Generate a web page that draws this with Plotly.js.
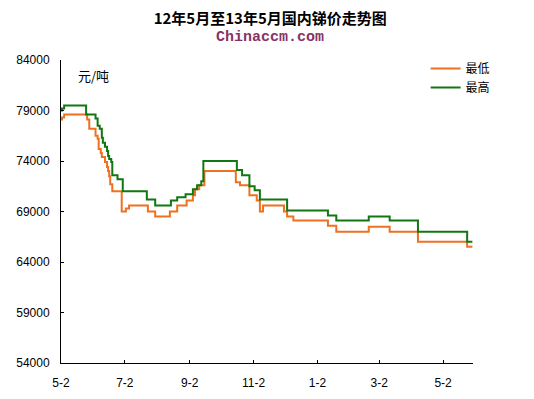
<!DOCTYPE html>
<html>
<head>
<meta charset="utf-8">
<script src="https://cdn.plot.ly/plotly-3.0.1.min.js"></script>
<style>html,body{margin:0;padding:0;background:#fff;}#chart{width:534px;height:399px;}</style>
</head>
<body>
<div id="chart"></div>
<script>
// 最低 (minimum price) series — change points
const minDates = ['2012-05-02','2012-05-03','2012-05-05','2012-05-27','2012-05-29','2012-06-04','2012-06-06','2012-06-07','2012-06-09','2012-06-10','2012-06-13','2012-06-15','2012-06-16','2012-06-17','2012-06-18','2012-06-20','2012-06-29','2012-07-03','2012-07-06','2012-07-24','2012-07-31','2012-08-14','2012-08-21','2012-08-30','2012-09-05','2012-09-07','2012-09-11','2012-09-16','2012-10-16','2012-10-20','2012-10-29','2012-11-05','2012-11-08','2012-11-11','2012-12-01','2012-12-04','2012-12-10','2013-01-12','2013-01-20','2013-02-20','2013-03-12','2013-04-08','2013-05-25','2013-05-30'];
const minVals = [78100,78300,78600,78100,77200,76500,76200,75200,74800,74400,73900,73400,73000,72500,71700,71000,69000,69300,69600,69000,68500,69000,69600,70100,70600,71200,71600,73000,71900,71600,70600,70100,69000,69600,69000,68500,68100,67600,67000,67500,67000,66000,65500,65500];

// 最高 (maximum price) series — change points
const maxDates = ['2012-05-02','2012-05-03','2012-05-05','2012-05-26','2012-06-04','2012-06-06','2012-06-08','2012-06-10','2012-06-11','2012-06-13','2012-06-15','2012-06-16','2012-06-17','2012-06-19','2012-06-20','2012-06-25','2012-06-30','2012-07-23','2012-07-31','2012-08-15','2012-08-21','2012-08-29','2012-09-05','2012-09-09','2012-09-13','2012-09-15','2012-10-17','2012-10-22','2012-10-29','2012-11-03','2012-11-08','2012-12-04','2013-01-12','2013-01-20','2013-02-20','2013-03-12','2013-04-08','2013-05-25','2013-05-30'];
const maxVals = [79000,79200,79500,78600,78200,77500,77200,76300,75800,75400,75000,74500,74200,73900,72600,72200,71000,70200,69600,70100,70400,70700,71200,71600,72000,74000,73100,72600,71500,71100,70200,69100,68600,68100,68500,68100,67000,66000,66000];

const seriesNames = ['最低','最高'];
const tickVals = ['2012-05-02','2012-07-02','2012-09-02','2012-11-02','2013-01-02','2013-03-02','2013-05-02'];
const tickText = ['5-2','7-2','9-2','11-2','1-2','3-2','5-2'];
const yTicks = [54000,59000,64000,69000,74000,79000,84000];

const traces = [
  {x: minDates, y: minVals, name: seriesNames[0], type: 'scatter', mode: 'lines',
   line: {color: '#ee7020', width: 2, shape: 'hv'}},
  {x: maxDates, y: maxVals, name: seriesNames[1], type: 'scatter', mode: 'lines',
   line: {color: '#117711', width: 2, shape: 'hv'}}
];

const layout = {
  width: 534, height: 399,
  margin: {l: 61, r: 61, t: 60, b: 36, pad: 0},
  paper_bgcolor: '#ffffff', plot_bgcolor: '#ffffff',
  font: {family: 'Liberation Sans, Arial, sans-serif', size: 12, color: '#000'},
  title: {text: '12年5月至13年5月国内锑价走势图', x: 0.506, xref: 'container', xanchor: 'center',
          y: 0.952, yref: 'container', yanchor: 'middle',
          font: {family: 'Noto Sans CJK SC, sans-serif', size: 15, color: '#000', weight: 'bold'}},
  showlegend: true,
  legend: {x: 0.885, y: 1.02, xanchor: 'left', yanchor: 'top', bgcolor: 'rgba(0,0,0,0)',
           font: {family: 'Noto Sans CJK SC, sans-serif', size: 12, color: '#000'},
           tracegroupgap: 0},
  xaxis: {type: 'date', range: ['2012-05-02', '2013-05-30 14:00'],
          tickmode: 'array', tickvals: tickVals, ticktext: tickText,
          ticks: 'inside', ticklen: 3, tickcolor: '#000', tickwidth: 1,
          showline: true, linecolor: '#000', linewidth: 1, showgrid: false, zeroline: false,
          ticklabelstandoff: 9,
          tickfont: {family: 'Liberation Sans, Arial, sans-serif', size: 12, color: '#000'}},
  yaxis: {range: [54000, 84000], tickmode: 'array', tickvals: yTicks, tickformat: 'd',
          ticks: 'inside', ticklen: 3, tickcolor: '#000', tickwidth: 1,
          showline: true, linecolor: '#000', linewidth: 1, showgrid: false, zeroline: false,
          ticklabelstandoff: 8,
          tickfont: {family: 'Liberation Sans, Arial, sans-serif', size: 12, color: '#000'}},
  annotations: [
    {text: 'Chinaccm.com', xref: 'paper', yref: 'paper', x: 0.508, y: 1.075,
     xanchor: 'center', yanchor: 'middle', showarrow: false,
     font: {family: 'Liberation Mono, DejaVu Sans Mono, monospace', size: 15, color: '#883366', weight: 'bold'}},
    {text: '元/吨', xref: 'paper', yref: 'paper', x: 0.037, y: 0.949,
     xanchor: 'left', yanchor: 'middle', showarrow: false,
     font: {family: 'Noto Sans CJK SC, sans-serif', size: 13, color: '#000'}}
  ]
};

Plotly.newPlot('chart', traces, layout, {displayModeBar: false, staticPlot: true});
</script>
</body>
</html>
